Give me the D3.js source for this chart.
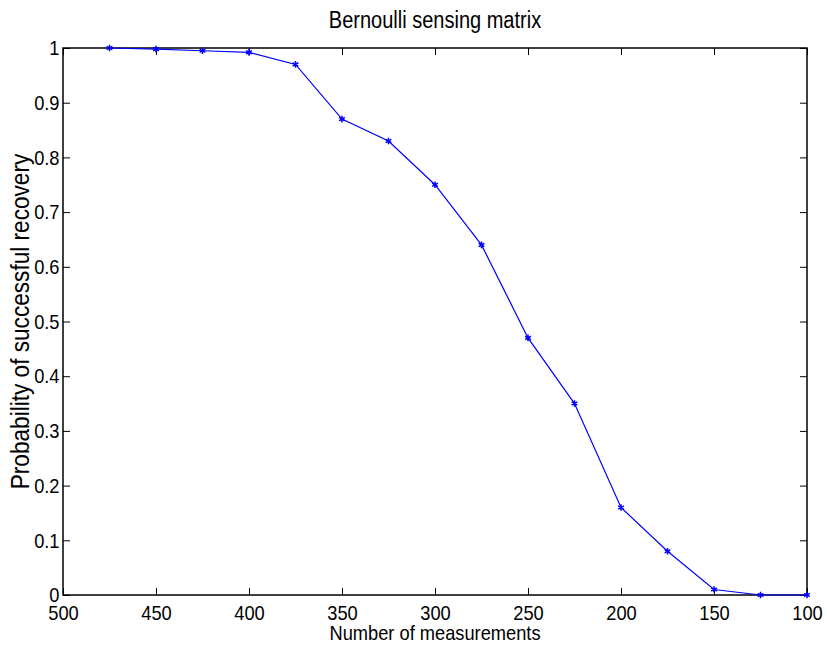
<!DOCTYPE html>
<html>
<head>
<meta charset="utf-8">
<script src="https://cdn.jsdelivr.net/npm/d3@7"></script>
<style>
  body { margin: 0; background: #fff; }
  text { font-family: "Liberation Sans", Arial, sans-serif; fill: #000; }
  .axis path, .axis line { stroke: #000; }
</style>
</head>
<body>
<div class="chart"></div>
<script>
var measurements = [475, 450, 425, 400, 375, 350, 325, 300, 275, 250, 225, 200, 175, 150, 125, 100];
var probability = [1.0, 0.998, 0.995, 0.992, 0.97, 0.87, 0.83, 0.75, 0.64, 0.47, 0.35, 0.16, 0.08, 0.01, 0, 0];
var xTicks = [500, 450, 400, 350, 300, 250, 200, 150, 100];
var yTicks = [0, 0.1, 0.2, 0.3, 0.4, 0.5, 0.6, 0.7, 0.8, 0.9, 1];

var margin = { top: 48, right: 20, bottom: 56, left: 63 };
var width = 827 - margin.left - margin.right;
var height = 651 - margin.top - margin.bottom;
var squeeze = "scale(0.87,1)"; // narrow Helvetica look

var x = d3.scaleLinear().domain([500, 100]).range([0, width]);
var y = d3.scaleLinear().domain([0, 1]).range([height, 0]);

var svg = d3.select(".chart").append("svg")
    .attr("width", 827)
    .attr("height", 651)
  .append("g")
    .attr("transform", "translate(" + margin.left + "," + margin.top + ")");

var fmt = function(d) { return d3.format("~g")(d); };

// bottom axis, ticks pointing inward
svg.append("g")
  .attr("class", "axis")
  .attr("transform", "translate(0," + height + ")")
  .call(d3.axisBottom(x).tickValues(xTicks).tickSize(-7).tickPadding(11).tickFormat(fmt))
  .call(function(g) { g.select(".domain").remove(); })
  .selectAll("text").style("font-size", "21px").attr("dy", "0.68em").attr("transform", squeeze);

svg.append("g")
  .attr("class", "axis")
  .call(d3.axisTop(x).tickValues(xTicks).tickSize(-7).tickFormat(""))
  .call(function(g) { g.select(".domain").remove(); });

svg.append("g")
  .attr("class", "axis")
  .call(d3.axisLeft(y).tickValues(yTicks).tickSize(-7).tickPadding(4).tickFormat(fmt))
  .call(function(g) { g.select(".domain").remove(); })
  .selectAll("text").style("font-size", "21px").attr("transform", squeeze);

svg.append("g")
  .attr("class", "axis")
  .attr("transform", "translate(" + width + ",0)")
  .call(d3.axisRight(y).tickValues(yTicks).tickSize(-7).tickFormat(""))
  .call(function(g) { g.select(".domain").remove(); });

svg.selectAll(".axis .tick line").attr("stroke", "#555");

// box
svg.append("rect")
  .attr("width", width)
  .attr("height", height)
  .attr("fill", "none")
  .attr("stroke", "#000")
  .attr("stroke-width", 1.5);

var data = measurements.map(function(m, i) { return { x: m, y: probability[i] }; });

svg.append("path")
  .datum(data)
  .attr("fill", "none")
  .attr("stroke", "#0000ff")
  .attr("stroke-width", 1.2)
  .attr("d", d3.line().x(function(d) { return x(d.x); }).y(function(d) { return y(d.y); }));

var sym = d3.symbol().type(d3.symbolAsterisk || d3.symbolCross).size(30);
svg.selectAll(".pt")
  .data(data)
  .enter().append("path")
  .attr("class", "pt")
  .attr("transform", function(d) { return "translate(" + x(d.x) + "," + y(d.y) + ")"; })
  .attr("d", sym)
  .attr("fill", "none")
  .attr("stroke", "#0000ff")
  .attr("stroke-width", 1.5);

function label(txt, tx, ty, rot, size) {
  svg.append("g")
    .attr("transform", "translate(" + tx + "," + ty + ")" + (rot ? " rotate(-90)" : ""))
  .append("text")
    .attr("text-anchor", "middle")
    .attr("transform", squeeze)
    .style("font-size", size + "px")
    .text(txt);
}

label("Bernoulli sensing matrix", width / 2, -20, false, 23);
label("Number of measurements", width / 2, height + 45, false, 21);
label("Probability of successful recovery", -34, height / 2, true, 26);
</script>
</body>
</html>
